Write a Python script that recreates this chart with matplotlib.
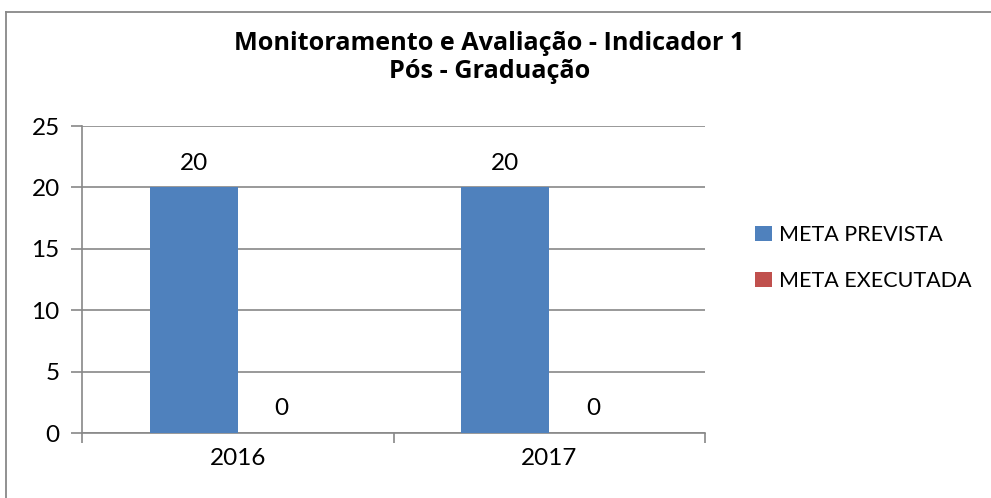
import numpy as np
import matplotlib.pyplot as plt
from matplotlib.lines import Line2D

# data
anos = ['2016', '2017']
meta_prevista = [20, 20]
meta_executada = [0, 0]
series = ['META PREVISTA', 'META EXECUTADA']
cores = ['#4F81BD', '#C0504D']

plt.rcParams['font.family'] = ['Lato', 'DejaVu Sans']

fig = plt.figure(figsize=(9.91, 4.98), dpi=100)
W, H = 991, 498
ax = fig.add_axes([82 / W, 1 - 433 / H, (705 - 82) / W, (433 - 126) / H])

# chart area frame (only top and left edges are visible)
fig.lines.append(Line2D([6 / W, 1.0], [1 - 12 / H, 1 - 12 / H], transform=fig.transFigure,
                        color='#888888', linewidth=1.3))
fig.lines.append(Line2D([6 / W, 6 / W], [0.0, 1 - 12 / H], transform=fig.transFigure,
                        color='#888888', linewidth=1.3))

x = np.arange(len(anos))
width = 0.2825
b1 = ax.bar(x - width / 2, meta_prevista, width=width, color=cores[0], label=series[0], zorder=3)
b2 = ax.bar(x + width / 2, meta_executada, width=width, color=cores[1], label=series[1], zorder=3)

for bars, vals in [(b1, meta_prevista), (b2, meta_executada)]:
    for rect, v in zip(bars, vals):
        ax.annotate(str(v), (rect.get_x() + rect.get_width() / 2, v),
                    textcoords='offset points', xytext=(0, 10),
                    ha='center', va='bottom', fontsize=17.5)

ax.set_xlim(-0.5, 1.5)
ax.set_ylim(0, 25)
ax.set_yticks([0, 5, 10, 15, 20, 25])
ax.yaxis.grid(True, color='#888888', linewidth=1.2, zorder=0)
ax.set_axisbelow(True)

ax.set_xticks([-0.5, 0.5, 1.5], minor=False)
ax.set_xticklabels([])
ax.set_xticks(x, minor=True)
ax.set_xticklabels(anos, minor=True)
ax.tick_params(axis='x', which='major', length=7, width=1.2, color='#888888', direction='out')
ax.tick_params(axis='x', which='minor', length=0, pad=11, labelsize=17.5)
ax.tick_params(axis='y', length=8, width=1.2, color='#888888', labelsize=17.5, pad=8)

for s in ['top', 'right']:
    ax.spines[s].set_visible(False)
for s in ['left', 'bottom']:
    ax.spines[s].set_color('#888888')
    ax.spines[s].set_linewidth(1.2)

fig.text(0.494, 1 - 43 / H, 'Monitoramento e Avaliação - Indicador 1', ha='center', va='center',
         fontsize=18.2, fontweight='bold', family=['Open Sans', 'DejaVu Sans'])
fig.text(0.494, 1 - 72 / H, 'Pós - Graduação', ha='center', va='center',
         fontsize=18.2, fontweight='bold', family=['Open Sans', 'DejaVu Sans'])

fig.legend(handles=[b1, b2], labels=series, loc='center left',
           bbox_to_anchor=(736 / W, 1 - 258 / H), frameon=False, fontsize=15.5,
           handlelength=0.75, handleheight=0.75, handletextpad=0.35, labelspacing=1.2)

fig.savefig('out.png', dpi=100)
